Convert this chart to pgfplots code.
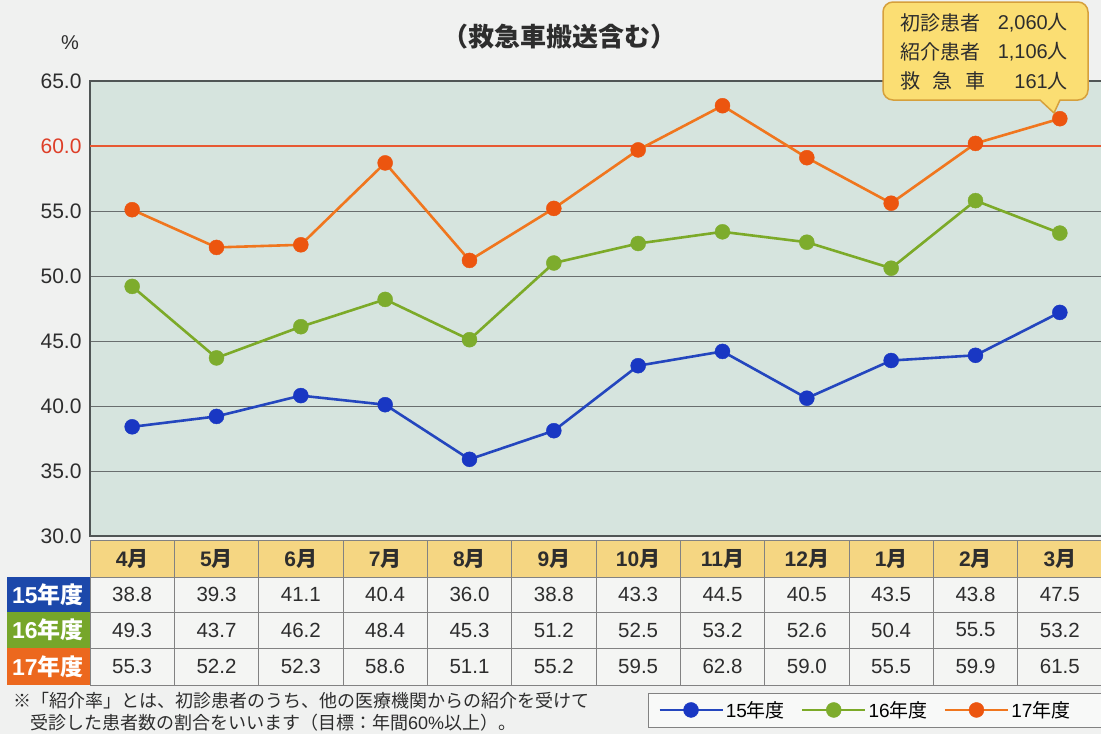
\documentclass[border=0pt]{standalone}
\usepackage{pgfplots}
\pgfplotsset{compat=1.18}
\usepackage{fontspec}
\setmainfont{Liberation Sans}
\newfontfamily\cjk{Noto Sans CJK JP}
\definecolor{pagebg}{RGB}{240,241,240}
\definecolor{plotbg}{RGB}{214,228,222}
\definecolor{frame}{RGB}{80,85,85}
\definecolor{gridc}{RGB}{105,110,110}
\definecolor{redl}{RGB}{232,88,50}
\definecolor{redt}{RGB}{222,62,40}
\definecolor{bl}{RGB}{36,70,190}
\definecolor{blm}{RGB}{25,55,195}
\definecolor{gr}{RGB}{124,170,40}
\definecolor{grm}{RGB}{125,172,45}
\definecolor{orl}{RGB}{240,118,30}
\definecolor{orm}{RGB}{236,85,15}
\definecolor{hdr}{RGB}{245,214,130}
\definecolor{cell}{RGB}{244,245,243}
\definecolor{cellb}{RGB}{130,130,130}
\definecolor{lab1}{RGB}{28,72,170}
\definecolor{lab2}{RGB}{118,166,42}
\definecolor{lab3}{RGB}{236,104,30}
\definecolor{callf}{RGB}{251,222,115}
\definecolor{calld}{RGB}{214,160,60}
\definecolor{txt}{RGB}{45,45,45}
\begin{document}
\begin{tikzpicture}
\fill[pagebg] (0pt,0pt) rectangle (1101pt,-734pt);
\begin{scope}
\clip (0pt,0pt) rectangle (1101pt,-734pt);
\begin{axis}[
  at={(90pt,-536pt)}, anchor=south west,
  scale only axis, width=1012pt, height=455pt,
  xmin=-0.5, xmax=11.5, ymin=30, ymax=65,
  xtick=\empty,
  ytick={30,35,40,45,50,55,60,65},
  yticklabels={30.0,35.0,40.0,45.0,50.0,55.0,\textcolor{redt}{60.0},65.0},
  yticklabel style={font=\fontsize{21}{21}\selectfont, text=txt, xshift=-5pt},
  major tick length=0pt,
  ymajorgrids, grid style={gridc, line width=0.8pt},
  axis line style={frame, line width=1.3pt},
  axis background/.style={fill=plotbg},
  legend columns=3,
  legend style={at={(axis description cs:0.5514,-0.345)}, anchor=north west,
    draw=cellb, fill=white!55!pagebg, font=\fontsize{19}{19}\selectfont,
    inner xsep=10pt, inner ysep=6pt,
    /tikz/every even column/.append style={column sep=14pt}},
  legend image code/.code={\draw[mark repeat=2,mark phase=2,#1] plot coordinates {(0pt,0pt)(31.5pt,0pt)(63pt,0pt)};},
]
\addplot[redl, line width=1.6pt, forget plot] coordinates {(-0.5,60) (11.5,60)};
\addplot[bl, line width=2.6pt, mark=*, mark size=7.5pt, mark options={solid, fill=blm, draw=blm, line width=0.4pt}]
  coordinates {(0,38.4) (1,39.2) (2,40.8) (3,40.1) (4,35.9) (5,38.1) (6,43.1) (7,44.2) (8,40.6) (9,43.5) (10,43.9) (11,47.2)};
\addlegendentry{15{\cjk 年度}}
\addplot[gr, line width=2.6pt, mark=*, mark size=7.5pt, mark options={solid, fill=grm, draw=grm, line width=0.4pt}]
  coordinates {(0,49.2) (1,43.7) (2,46.1) (3,48.2) (4,45.1) (5,51.0) (6,52.5) (7,53.4) (8,52.6) (9,50.6) (10,55.8) (11,53.3)};
\addlegendentry{16{\cjk 年度}}
\addplot[orl, line width=2.6pt, mark=*, mark size=7.5pt, mark options={solid, fill=orm, draw=orm, line width=0.4pt}]
  coordinates {(0,55.1) (1,52.2) (2,52.4) (3,58.7) (4,51.2) (5,55.2) (6,59.7) (7,63.1) (8,59.1) (9,55.6) (10,60.2) (11,62.1)};
\addlegendentry{17{\cjk 年度}\hspace*{30pt}}
\end{axis}
\begin{scope}[x=1pt,y=-1pt]
  % title and unit
  \node[text=txt, font=\fontsize{26}{26}\selectfont\cjk\bfseries] at (559,37) {（救急車搬送含む）};
  \node[text=txt, font=\fontsize{20}{20}\selectfont] at (70,43) {\%};
  % table
  \fill[hdr] (90,540) rectangle (1102,577);
  \fill[cell] (90,577) rectangle (1102,685);
  \foreach \r in {540,577,612,648,685} \draw[cellb, line width=0.8pt] (90,\r) -- (1102,\r);
  \foreach \i in {0,...,12} \draw[cellb, line width=0.8pt] ({90+84.333*\i},540) -- ({90+84.333*\i},685);
  \foreach \m [count=\i from 0] in {4,5,6,7,8,9,10,11,12,1,2,3}
    \node[text=txt, font=\fontsize{21}{21}\selectfont\bfseries] at ({132.17+84.333*\i},558.5) {\m{\cjk\bfseries 月}};
  \fill[lab1] (7,577) rectangle (90,612);
  \fill[lab2] (7,612) rectangle (90,648);
  \fill[lab3] (7,648) rectangle (90,685);
  \node[text=white, font=\fontsize{23}{23}\selectfont\bfseries] at (48,594.5) {15{\cjk\bfseries 年度}};
  \node[text=white, font=\fontsize{23}{23}\selectfont\bfseries] at (48,630) {16{\cjk\bfseries 年度}};
  \node[text=white, font=\fontsize{23}{23}\selectfont\bfseries] at (48,666.5) {17{\cjk\bfseries 年度}};
  \foreach \v [count=\i from 0] in {38.8,39.3,41.1,40.4,36.0,38.8,43.3,44.5,40.5,43.5,43.8,47.5}
    \node[text=txt, font=\fontsize{20.5}{20.5}\selectfont] at ({132.17+84.333*\i},594.5) {\v};
  \foreach \v [count=\i from 0] in {49.3,43.7,46.2,48.4,45.3,51.2,52.5,53.2,52.6,50.4,55.5,53.2}
    \node[text=txt, font=\fontsize{20.5}{20.5}\selectfont] at ({132.17+84.333*\i},630) {\v};
  \foreach \v [count=\i from 0] in {55.3,52.2,52.3,58.6,51.1,55.2,59.5,62.8,59.0,55.5,59.9,61.5}
    \node[text=txt, font=\fontsize{20.5}{20.5}\selectfont] at ({132.17+84.333*\i},666.5) {\v};
  % callout
  \draw[fill=callf, draw=calld, line width=1.5pt, line join=round]
    (883,50) [rounded corners=10pt] -- (883,2) -- (1088,2) -- (1088,100) [sharp corners] -- (1060,100) -- (1054,113) -- (1040,100) [rounded corners=10pt] -- (883,100) -- cycle;
  \begin{scope}[every node/.style={text=txt, font=\fontsize{20}{20}\selectfont, inner sep=0pt}]
    \node[anchor=west] at (900,23) {\cjk 初診患者};
    \node[anchor=west] at (900,52) {\cjk 紹介患者};
    \node[anchor=west] at (900,81) {\makebox[85pt][s]{\cjk 救\hfill 急\hfill 車}};
    \node[anchor=east] at (1068,23) {2,060{\cjk 人}};
    \node[anchor=east] at (1068,52) {1,106{\cjk 人}};
    \node[anchor=east] at (1068,81) {161{\cjk 人}};
  \end{scope}
  % footnote
  \node[anchor=west, inner sep=0pt, text=txt, font=\fontsize{18}{18}\selectfont] at (13,701) {\cjk ※「紹介率」とは、初診患者のうち、他の医療機関からの紹介を受けて};
  \node[anchor=west, inner sep=0pt, text=txt, font=\fontsize{18}{18}\selectfont] at (30,723) {{\cjk 受診した患者数の割合をいいます（目標：年間}60\%{\cjk 以上）。}};
\end{scope}
\end{scope}
\pgfresetboundingbox
\path[use as bounding box] (0pt,0pt) rectangle (1101pt,-734pt);
\end{tikzpicture}
\end{document}
